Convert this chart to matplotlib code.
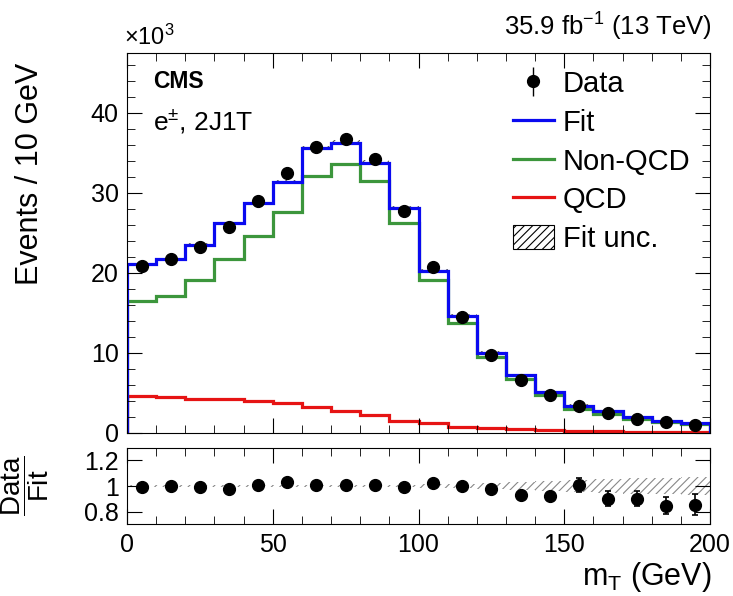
import numpy as np
import matplotlib
matplotlib.use("Agg")
import matplotlib.pyplot as plt
import matplotlib.ticker as mticker
from matplotlib.lines import Line2D
from matplotlib.patches import Patch

plt.rcParams.update({
    "font.family": ["Liberation Sans", "DejaVu Sans"],
    "mathtext.fontset": "custom",
    "mathtext.rm": "Liberation Sans",
    "mathtext.it": "Liberation Sans:italic",
    "mathtext.bf": "Liberation Sans:bold",
    "hatch.linewidth": 0.8,
})

# m_T binning (GeV), 10 GeV bins
edges = np.arange(0, 201, 10)

# event yields in units of 10^3
data = [20.9, 21.7, 23.3, 25.75, 29.0, 32.5, 35.8, 36.7, 34.2, 27.7,
        20.7, 14.5, 9.7, 6.6, 4.7, 3.4, 2.45, 1.8, 1.35, 1.0]
fit = [21.1, 21.75, 23.5, 26.2, 28.7, 31.4, 35.6, 36.3, 33.8, 28.1,
       20.3, 14.6, 10.0, 7.2, 5.1, 3.4, 2.7, 1.95, 1.55, 1.2]
non_qcd = [16.5, 17.1, 19.1, 21.7, 24.6, 27.6, 32.1, 33.6, 31.5, 26.3,
           19.1, 13.7, 9.5, 6.7, 4.75, 3.0, 2.4, 1.75, 1.4, 1.1]
qcd = [4.67, 4.5, 4.3, 4.3, 4.0, 3.7, 3.3, 2.7, 2.2, 1.55,
       1.2, 0.8, 0.6, 0.45, 0.35, 0.25, 0.2, 0.15, 0.1, 0.1]

# data / fit ratio panel
ratio = [0.99, 1.0, 0.995, 0.98, 1.01, 1.035, 1.005, 1.01, 1.01, 0.99,
         1.023, 1.0, 0.975, 0.93, 0.925, 1.01, 0.90, 0.90, 0.845, 0.855]
ratio_err = [0.01, 0.01, 0.01, 0.01, 0.01, 0.01, 0.01, 0.01, 0.01, 0.01,
             0.012, 0.015, 0.018, 0.02, 0.025, 0.055, 0.06, 0.06, 0.065, 0.08]
# relative fit uncertainty
fit_unc = [0.008, 0.008, 0.008, 0.008, 0.008, 0.008, 0.008, 0.008, 0.008, 0.01,
           0.012, 0.015, 0.02, 0.03, 0.04, 0.05, 0.055, 0.06, 0.065, 0.07]

fit = np.array(fit)
fit_unc = np.array(fit_unc)
centers = 0.5 * (edges[:-1] + edges[1:])

fig = plt.figure(figsize=(7.33, 5.96), dpi=100)
# main panel: x 127-710 px, y 54-433 px; ratio: y 448-524 px
ax = fig.add_axes([0.1733, 0.2735, 0.7953, 0.6376])
rax = fig.add_axes([0.1733, 0.1203, 0.7953, 0.1285])

blue = "#0a0af0"
green = "#3c963c"
red = "#e61414"
lw = 2.3
tick_fs = 18

# fit uncertainty band (main)
up = np.append(fit * (1 + fit_unc), fit[-1] * (1 + fit_unc[-1]))
dn = np.append(fit * (1 - fit_unc), fit[-1] * (1 - fit_unc[-1]))
ax.fill_between(edges, dn, up, step="post", facecolor="none",
                edgecolor="#555555", hatch="////", linewidth=0)

ax.stairs(qcd, edges, color=red, linewidth=lw)
ax.stairs(non_qcd, edges, color=green, linewidth=lw)
ax.stairs(fit, edges, color=blue, linewidth=lw)
ax.plot(centers, data, "o", color="black", markersize=8.5, zorder=5)

ax.set_xlim(0, 200)
ax.set_ylim(0, 47.5)
ax.set_ylabel("Events / 10 GeV", fontsize=22, loc="top")
ax.yaxis.set_label_coords(-0.14, 0.975)
ax.xaxis.set_major_locator(mticker.MultipleLocator(50))
ax.xaxis.set_minor_locator(mticker.MultipleLocator(10))
ax.yaxis.set_major_locator(mticker.MultipleLocator(10))
ax.yaxis.set_minor_locator(mticker.MultipleLocator(2))
ax.tick_params(which="both", direction="in", top=True, right=True,
               labelsize=tick_fs, labelbottom=False, pad=6)
ax.tick_params(which="major", length=11)
ax.tick_params(which="minor", length=5.5)

ax.text(-0.005, 1.022, r"$\times$10$^{3}$", transform=ax.transAxes,
        fontsize=17, ha="left", va="baseline")
ax.text(1.003, 1.045, r"35.9 fb$^{-1}$ (13 TeV)", transform=ax.transAxes,
        fontsize=18.5, ha="right", va="baseline")
ax.text(0.045, 0.924, "CMS", transform=ax.transAxes, fontsize=16.5,
        fontweight="bold", ha="left", va="center")
ax.text(0.045, 0.822, r"e$^{\pm}$, 2J1T", transform=ax.transAxes,
        fontsize=19, ha="left", va="center")

data_handle = ax.errorbar([], [], yerr=[], fmt="o", color="black",
                          markersize=8.5, elinewidth=1, capsize=3)
handles = [
    data_handle,
    Line2D([], [], color=blue, linewidth=lw),
    Line2D([], [], color=green, linewidth=lw),
    Line2D([], [], color=red, linewidth=lw),
    Patch(facecolor="white", edgecolor="black", hatch="////", linewidth=0.8),
]
labels = ["Data", "Fit", "Non-QCD", "QCD", "Fit unc."]
ax.legend(handles, labels, loc="upper left", bbox_to_anchor=(0.662, 0.955),
          frameon=False, fontsize=21, labelspacing=0.36, handlelength=1.4,
          handleheight=0.9, handletextpad=0.3, borderaxespad=0, borderpad=0)

# ratio panel
r_up = np.append(1 + fit_unc, 1 + fit_unc[-1])
r_dn = np.append(1 - fit_unc, 1 - fit_unc[-1])
rax.fill_between(edges, r_dn, r_up, step="post", facecolor="none",
                 edgecolor="#888888", hatch="////", linewidth=0)
rax.errorbar(centers, ratio, yerr=ratio_err, fmt="o", color="black",
             markersize=8.5, elinewidth=1.2, capsize=2.5, capthick=1.2)
rax.set_xlim(0, 200)
rax.set_ylim(0.7, 1.3)
rax.set_yticks([0.8, 1.0, 1.2])
rax.set_yticklabels(["0.8", "1", "1.2"])
rax.xaxis.set_major_locator(mticker.MultipleLocator(50))
rax.xaxis.set_minor_locator(mticker.MultipleLocator(10))
rax.tick_params(which="both", direction="in", top=True, right=True,
                labelsize=tick_fs, pad=6)
rax.tick_params(which="major", length=11)
rax.tick_params(which="minor", length=5.5)
rax.set_xlabel(r"m$_{\mathrm{T}}$ (GeV)", fontsize=22, loc="right")
rax.xaxis.set_label_coords(1.003, -0.46)
rax.set_ylabel(r"$\dfrac{\mathrm{Data}}{\mathrm{Fit}}$", fontsize=20)
rax.yaxis.set_label_coords(-0.13, 0.5)

fig.savefig("out.png", dpi=100)
